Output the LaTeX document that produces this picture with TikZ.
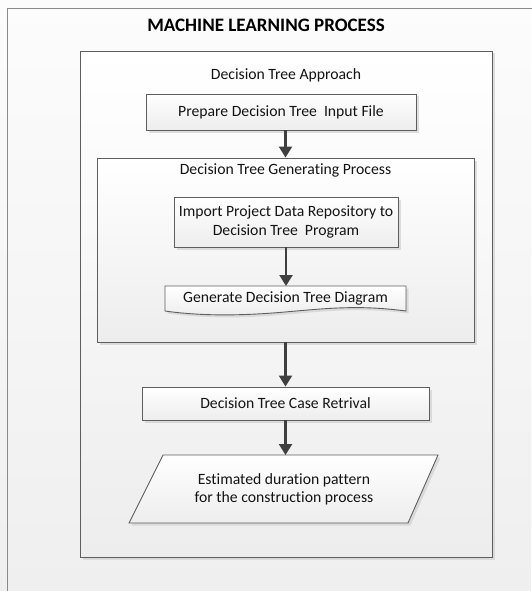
\documentclass[tikz,border=0pt]{standalone}
\usepackage{fontspec}
\setmainfont{Carlito}[Ligatures=NoCommon]
\usetikzlibrary{arrows.meta,shadows}
\definecolor{edgec}{HTML}{5E5E5E}
\definecolor{arrc}{HTML}{3F3F3F}
\definecolor{framec}{HTML}{8A8A8A}
\definecolor{bgtop}{HTML}{FCFCFC}
\definecolor{bgbot}{HTML}{EFEFEF}
\definecolor{boxbot}{HTML}{EDEDED}
\begin{document}
\begin{tikzpicture}[x=1pt,y=-1pt,
  box/.style={draw=edgec, line width=0.9pt, top color=white, bottom color=boxbot,
    drop shadow={shadow xshift=2.5pt, shadow yshift=-2.5pt, fill=black!18, opacity=0.7},
    inner sep=0pt},
  lbl/.style={font=\fontsize{15.7}{18.3}\selectfont, align=center, inner sep=0pt, text=black!92},
  flow/.style={draw=arrc, line width=2.2pt, -{Triangle[length=11pt,width=13pt]}}]
\useasboundingbox (0,0) rectangle (531,591);
% background
\shade[top color=bgtop, bottom color=bgbot] (0,0) rectangle (531,591);
% outer frame (extends past the page on the right and bottom)
\node[draw=framec, line width=1.1pt, fill=none, minimum width=560pt, minimum height=620pt, anchor=north west, inner sep=0pt] (frame) at (7,8) {};
\node[font=\fontsize{19}{22}\selectfont\bfseries, inner sep=0pt] (title) at (266,25) {MACHINE LEARNING PROCESS};
% approach box
\node[box, minimum width=412pt, minimum height=506pt] (appr) at (286,304) {};
\node[lbl] (apprlbl) at (286,75) {Decision Tree Approach};
% prepare
\node[box, minimum width=270pt, minimum height=36pt] (prep) at (281,112) {};
\node[lbl] at (prep) {Prepare Decision Tree\ \ Input File};
% generating process
\node[box, minimum width=377pt, minimum height=184pt] (gen) at (285.5,250) {};
\node[lbl] (genlbl) at (285.5,170) {Decision Tree Generating Process};
% import
\node[box, minimum width=224pt, minimum height=50pt] (imp) at (286,222) {};
\node[lbl] at (imp) {Import Project Data Repository to\\Decision Tree\ \ Program};
% document shape
\path[box] (165,286) -- (406,286) -- (406,311)
  .. controls (360,305) and (330,308) .. (285,312)
  .. controls (240,316) and (200,316) .. (165,311) -- cycle;
\node[lbl] (doc) at (285.5,298) {Generate Decision Tree Diagram};
\coordinate (docn) at (286,286);
% case retrieval
\node[box, minimum width=287pt, minimum height=33pt] (case) at (285.5,403.5) {};
\node[lbl] at (case) {Decision Tree Case Retrival};
% parallelogram
\path[box] (163,455) -- (438,455) -- (408,523) -- (129,523) -- cycle;
\node[lbl] (est) at (284,489) {Estimated duration pattern\\for the construction process};
\coordinate (estn) at (285.5,455);
% arrows
\draw[flow] (prep.south -| gen.north) -- (gen.north);
\draw[flow] (imp.south) -- (docn);
\draw[flow] (gen.south) -- (case.north);
\draw[flow] (case.south) -- (estn);
\end{tikzpicture}
\end{document}
